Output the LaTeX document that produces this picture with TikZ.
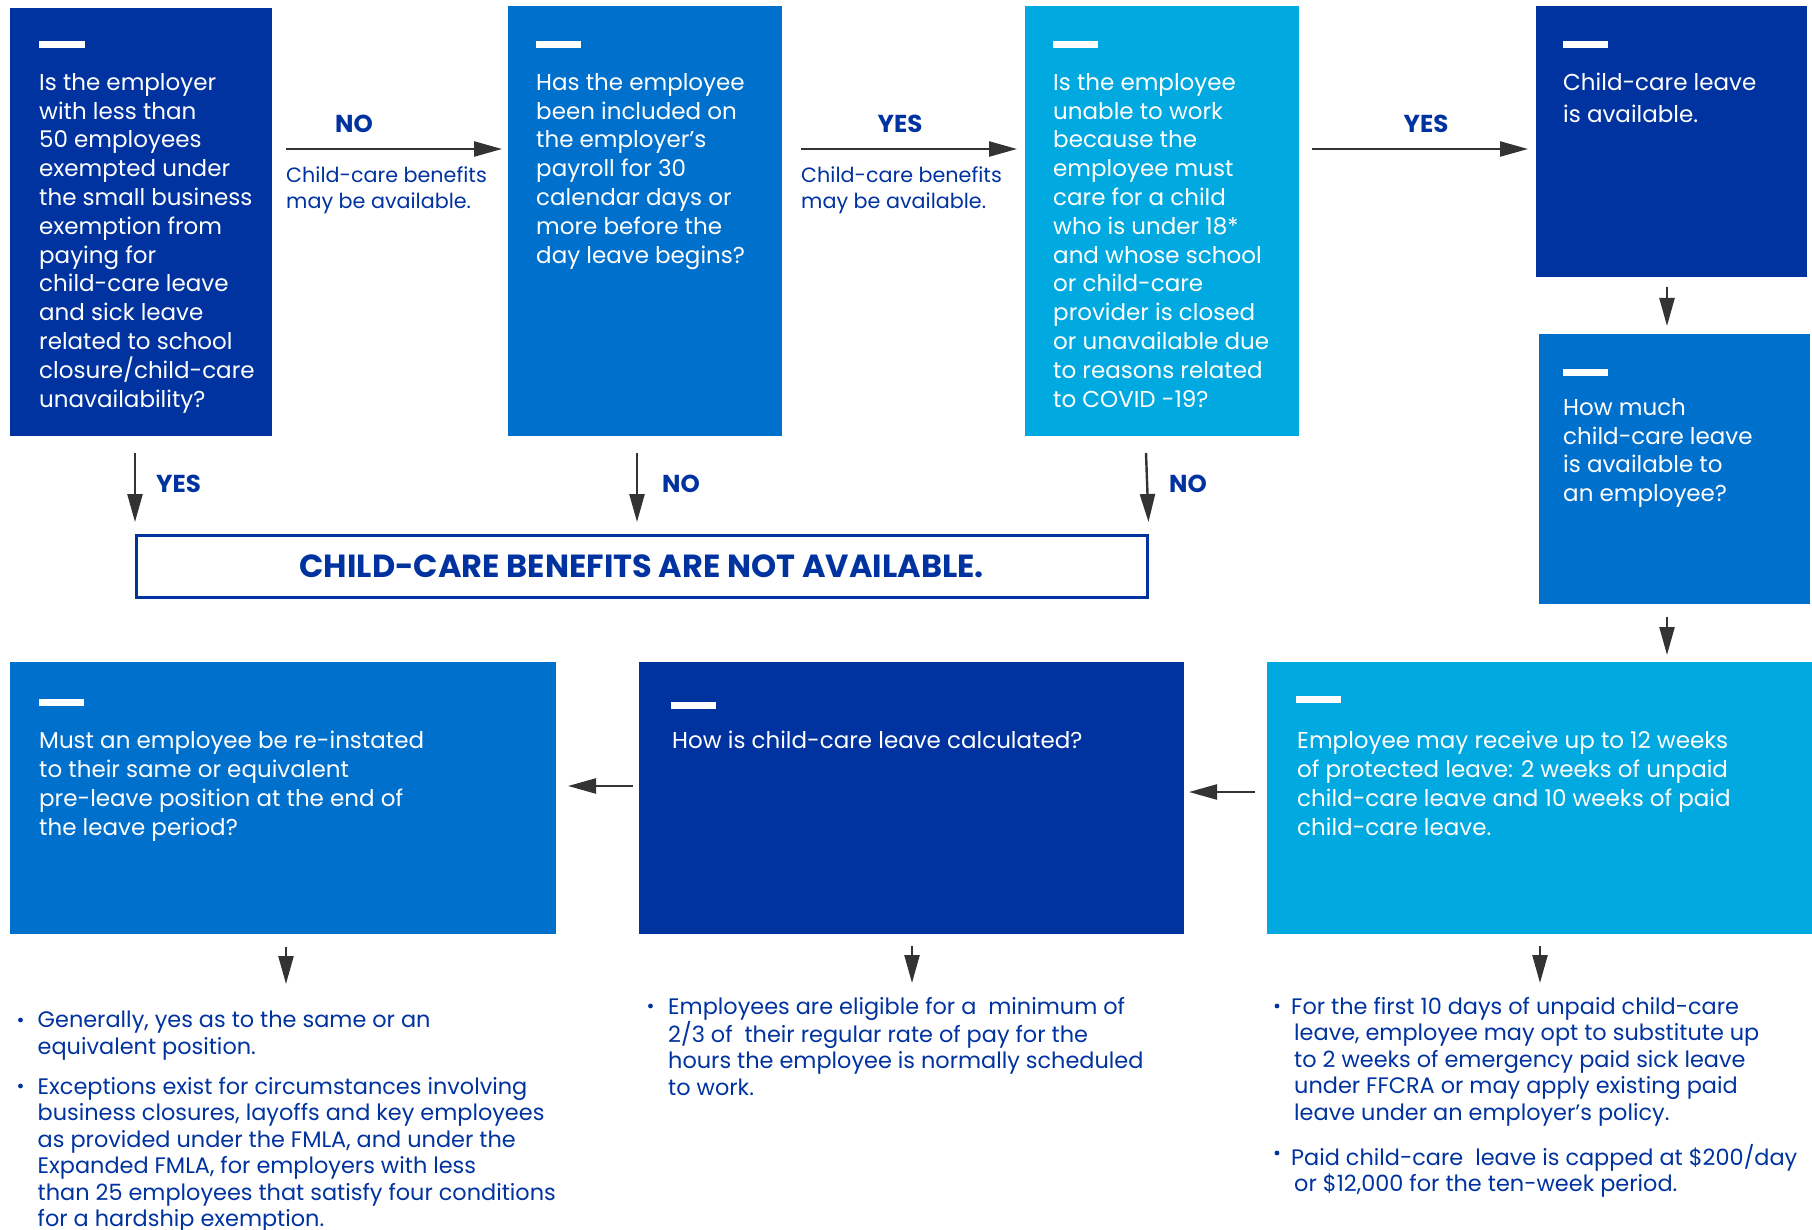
\documentclass[tikz,border=0pt]{standalone}
\usepackage{fontspec}
\setmainfont{Poppins}
\usetikzlibrary{arrows.meta,calc}
\definecolor{cdark}{HTML}{0033A0}
\definecolor{cmid}{HTML}{0070CD}
\definecolor{clight}{HTML}{00A9E0}
\definecolor{carrow}{HTML}{333333}
\definecolor{ctext}{HTML}{0033A0}
\begin{document}
\begin{tikzpicture}[x=1pt,y=-1pt,
  panel/.style={fill=#1, draw=none, inner sep=0pt, outer sep=0pt, anchor=north west},
  dashbar/.style={fill=white},
  boxtext/.style={text=white, align=left, inner sep=0pt, anchor=north west, font=\fontsize{23}{28.8}\selectfont},
  arr/.style={draw=carrow, line width=2.4pt, -{Triangle[length=28pt,width=15pt]}},
  yn/.style={text=ctext, font=\bfseries\fontsize{24.5}{26}\selectfont, inner sep=0pt},
  note/.style={text=ctext, align=left, inner sep=0pt, anchor=north west, font=\fontsize{20.7}{26}\selectfont},
  bul/.style={text=ctext, align=left, inner sep=0pt, anchor=north west, font=\fontsize{22.4}{26.5}\selectfont},
  bdot/.style={fill=ctext},
]
\clip (0,0) rectangle (1812,1230);
\fill[white] (0,0) rectangle (1812,1230);

% ---------- top row panels ----------
\node[panel=cdark, minimum width=262pt, minimum height=428pt] (b1) at (10,8) {};
\node[panel=cmid, minimum width=274pt, minimum height=430pt] (b2) at (508,6) {};
\node[panel=clight, minimum width=274pt, minimum height=430pt] (b3) at (1025,6) {};
\node[panel=cdark, minimum width=271pt, minimum height=271pt] (b4) at (1536,6) {};
\node[panel=cmid, minimum width=271pt, minimum height=270pt] (b5) at (1539,334) {};
% ---------- bottom row panels ----------
\node[panel=clight, minimum width=545pt, minimum height=272pt] (b6) at (1267,662) {};
\node[panel=cdark, minimum width=545pt, minimum height=272pt] (b7) at (639,662) {};
\node[panel=cmid, minimum width=546pt, minimum height=272pt] (b8) at (10,662) {};

% ---------- white bars ----------
\fill[dashbar] ($(b1.north west)+(29,33)$) rectangle +(46,7);
\fill[dashbar] ($(b2.north west)+(28,35)$) rectangle +(45,7);
\fill[dashbar] ($(b3.north west)+(28,35)$) rectangle +(45,7);
\fill[dashbar] ($(b4.north west)+(27,35)$) rectangle +(45,7);
\fill[dashbar] ($(b5.north west)+(24,35)$) rectangle +(45,7);
\fill[dashbar] ($(b6.north west)+(29,34)$) rectangle +(45,7);
\fill[dashbar] ($(b7.north west)+(32,40)$) rectangle +(45,7);
\fill[dashbar] ($(b8.north west)+(29,37)$) rectangle +(45,7);

% ---------- panel texts ----------
\node[boxtext] (t1) at (39,73) {Is the employer\\with less than\\50 employees\\exempted under\\the small business\\exemption from\\paying for\\child-care leave\\and sick leave\\related to school\\closure/child-care\\unavailability?};
\node[boxtext] (t2) at (536,73) {Has the employee\\been included on\\the employer’s\\payroll for 30\\calendar days or\\more before the\\day leave begins?};
\node[boxtext] (t3) at (1053,73) {Is the employee\\unable to work\\because the\\employee must\\care for a child\\who is under 18*\\and whose school\\or child-care\\provider is closed\\or unavailable due\\to reasons related\\to COVID -19?};
\node[boxtext, font=\fontsize{23}{32}\selectfont] (t4) at (1563,73) {Child-care leave\\is available.};
\node[boxtext] (t5) at (1563,398) {How much\\child-care leave\\is available to\\an employee?};
\node[boxtext] (t6) at (1297,731) {Employee may receive up to 12 weeks\\of protected leave: 2 weeks of unpaid\\child-care leave and 10 weeks of paid\\child-care leave.};
\node[boxtext] (t7) at (672,731) {How is child-care leave calculated?};
\node[boxtext] (t8) at (39,731) {Must an employee be re-instated\\to their same or equivalent\\pre-leave position at the end of\\the leave period?};

% ---------- not available box ----------
\node[draw=cdark, line width=2.5pt, fill=white, inner sep=0pt, minimum width=1011pt, minimum height=62pt, anchor=north west,
      text=cdark, font=\bfseries\fontsize{32}{34}\selectfont] (na) at (135,534) {CHILD-CARE BENEFITS ARE NOT AVAILABLE.};

% ---------- horizontal arrows (top) ----------
\draw[arr] ($(b1.north east)+(14,141)$) -- ($(b2.north west)+(-6,143)$);
\draw[arr] ($(b2.north east)+(19,143)$) -- ($(b3.north west)+(-8,143)$);
\draw[arr] ($(b3.north east)+(13,143)$) -- ($(b4.north west)+(-8,143)$);
\node[yn] (l1) at (354,124) {NO};
\node[yn] (l2) at (900,124) {YES};
\node[yn] (l3) at (1426,124) {YES};
\node[note] (c1) at (286,166) {Child-care benefits\\may be available.};
\node[note] (c2) at (801,166) {Child-care benefits\\may be available.};

% ---------- down arrows to not-available ----------
\draw[arr] ($(b1.south west)+(125,17)$) -- ($(na.north west)+(0,-12)$);
\draw[arr] ($(b2.south west)+(129,17)$) -- ($(na.north west)+(502,-12)$);
\draw[arr] ($(b3.south west)+(121,17)$) -- ($(na.north east)+(0,-12)$);
\node[yn, anchor=west] (l4) at (156,484) {YES};
\node[yn, anchor=west] (l5) at (662,484) {NO};
\node[yn, anchor=west] (l6) at (1169,484) {NO};

% ---------- right column ----------
\draw[arr] ($(b4.south west)+(131,10)$) -- ($(b5.north west)+(128,-8)$);
\draw[arr] ($(b5.south west)+(128,13)$) -- ($(b6.north west)+(400,-7)$);

% ---------- bottom row arrows ----------
\draw[arr] ($(b6.west)+(-12,-6)$) -- ($(b7.east)+(5,-6)$);
\draw[arr] ($(b7.west)+(-6,-12)$) -- ($(b8.east)+(12,-12)$);

% ---------- bullet lists ----------
\node[bul] (p8a) at (37.5,1011) {Generally, yes as to the same or an\\equivalent position.};
\node[bul] (p8b) at (37.5,1077) {Exceptions exist for circumstances involving\\business closures, layoffs and key employees\\as provided under the FMLA, and under the\\Expanded FMLA, for employers with less\\than 25 employees that satisfy four conditions\\for a hardship exemption.};
\fill[bdot] (20.5,1020) circle (2.4);
\fill[bdot] (20.5,1086) circle (2.4);

\node[bul] (p7a) at (668,997) {Employees are eligible for a\ \ minimum of\\2/3 of\ \ their regular rate of pay for the\\hours the employee is normally scheduled\\to work.};
\fill[bdot] (650.5,1006) circle (2.4);

\node[bul] (p6a) at (1291,997) {For the first 10 days of unpaid child-care\\\hspace*{3pt}leave, employee may opt to substitute up\\\hspace*{3pt}to 2 weeks of emergency paid sick leave\\\hspace*{3pt}under FFCRA or may apply existing paid\\\hspace*{3pt}leave under an employer’s policy.};
\node[bul] (p6b) at (1291,1144) {Paid child-care\ \ leave is capped at \$200/day\\\hspace*{3pt}or \$12,000 for the ten-week period.};
\fill[bdot] (1277,1006) circle (2.4);
\fill[bdot] (1277,1153) circle (2.4);

% ---------- down arrows to bullet lists ----------
\draw[arr] ($(b8.south west)+(276,13)$) -- ($(b8.south west)+(276,50)$);
\draw[arr] ($(b7.south west)+(273,12)$) -- ($(b7.south west)+(273,49)$);
\draw[arr] ($(b6.south west)+(273,12)$) -- ($(b6.south west)+(273,49)$);
\end{tikzpicture}
\end{document}
